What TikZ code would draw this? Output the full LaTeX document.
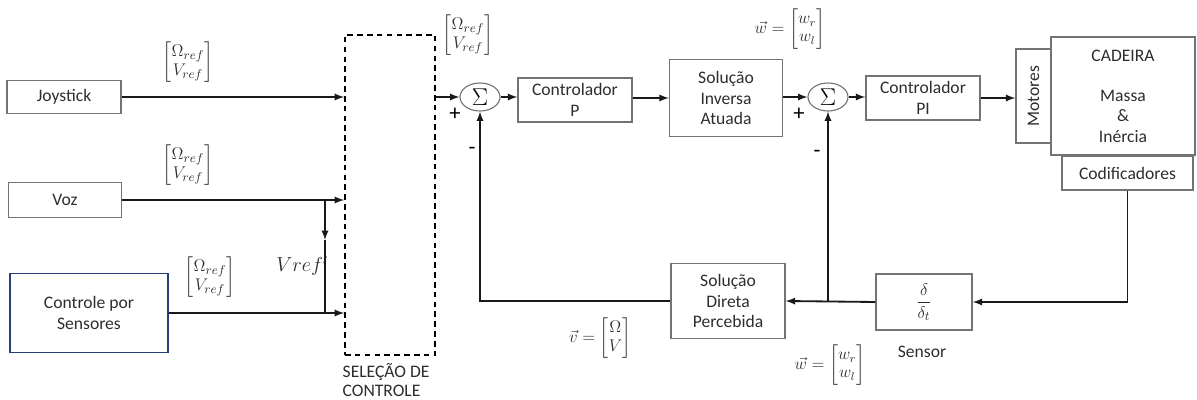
\documentclass[tikz,border=0pt]{standalone}
\usepackage{amsmath}
\usepackage{fontspec}
\setmainfont{Carlito}
\usetikzlibrary{shapes.geometric}
\definecolor{SensBlue}{RGB}{38,62,118}
\definecolor{TextGray}{RGB}{45,45,45}

\begin{document}
\begin{tikzpicture}[
  x=0.025cm, y=-0.025cm,
  blk/.style  = {rectangle, draw=black!55, line width=1pt, text=TextGray,
                 align=center, inner sep=2pt,
                 font=\fontsize{12.5}{14.5}\selectfont},
  sumnd/.style = {ellipse, draw=black!55, line width=0.8pt,
                  minimum width=1cm, minimum height=0.7cm, inner sep=0pt,
                  font=\fontsize{16}{16}\selectfont},
  sel/.style  = {rectangle, draw=black, dashed, line width=1.3pt,
                 dash pattern=on 4pt off 3pt},
  ln/.style   = {draw=black!90, line width=1.3pt},
  lbl/.style  = {font=\fontsize{12.5}{14}\selectfont, text=TextGray},
  sgn/.style  = {font=\fontsize{16}{16}\selectfont, text=black},
  >=latex,
]

\useasboundingbox (0,0) rectangle (1197,400);

% entradas
\node[blk, minimum width=2.85cm, minimum height=0.825cm] (joy) at (64,97) {Joystick};
\node[blk, minimum width=2.825cm, minimum height=0.875cm] (voz) at (65,200) {Voz};
\node[blk, draw=SensBlue, minimum width=3.95cm, minimum height=1.975cm]
  (sens) at (89,313) {Controle por\\Sensores};

\node[sel, minimum width=2.25cm, minimum height=8cm] (selc) at (390,195) {};
\node[lbl, anchor=north west, align=left, inner sep=1pt,
  font=\fontsize{12.5}{13.5}\selectfont]
  (selt) at (341,362) {SELEÇÃO DE\\CONTROLE};

\node[lbl] (m1) at (188,62)  {$\begin{bmatrix}\Omega_{ref}\\ V_{ref}\end{bmatrix}$};
\node[lbl] (m2) at (188,165) {$\begin{bmatrix}\Omega_{ref}\\ V_{ref}\end{bmatrix}$};
\node[lbl] (m3) at (210,277) {$\begin{bmatrix}\Omega_{ref}\\ V_{ref}\end{bmatrix}$};
\node[lbl] (m4) at (468,35)  {$\begin{bmatrix}\Omega_{ref}\\ V_{ref}\end{bmatrix}$};
\node[lbl, font=\fontsize{14}{14}\selectfont] (vref) at (302,266) {$Vref'$};

\coordinate (j1) at (325,200);
\coordinate (jm) at (325,240);
\coordinate (j2) at (325,313);

\draw[ln, ->] (joy.east) -- (joy.east -| selc.west);
\draw[ln, ->] (voz.east) -- (voz.east -| selc.west);
\draw[ln, ->] (sens.east) -- (sens.east -| selc.west);
\draw[ln, ->] (j1) -- (jm);
\draw[ln] (jm) -- (j2);

% malha externa
\node[sumnd] (sum1) at (480,97) {$\Sigma$};
\node[blk, minimum width=2.85cm, minimum height=1.1cm] (ctrlP) at (575,100)
  {Controlador\\P};
\node[blk, minimum width=2.825cm, minimum height=1.925cm] (inv) at (726,98)
  {Solução\\Inversa\\Atuada};

\node[sgn] at (455,114) {+};
\node[sgn] at (472,151) {-};

\draw[ln, ->] (sum1.west -| selc.east) -- (sum1.west);
\draw[ln, ->] (sum1.east) -- (sum1.east -| ctrlP.west);
\draw[ln, ->] (ctrlP.east |- inv.west) -- (inv.west);

% malha interna
\node[sumnd] (sum2) at (828,97) {$\Sigma$};
\node[blk, minimum width=2.85cm, minimum height=1.1cm] (ctrlPI) at (923,98)
  {Controlador\\PI};
\node[blk, minimum width=0.875cm, minimum height=2.35cm] (mot) at (1033.5,96) {};
\node[lbl, rotate=90] (mott) at (mot) {Motores};
\node[blk, minimum width=3.6cm, minimum height=2.95cm] (cad) at (1123,96)
  {CADEIRA\\[14pt]Massa\\\&\\Inércia};
\node[blk, minimum width=3.275cm, minimum height=0.85cm] (cod) at (1127.5,173)
  {Codificadores};

\node[lbl, inner sep=0.5pt, font=\fontsize{12}{13}\selectfont] (w1) at (790,29)
  {$\vec{w}=\begin{bmatrix}w_r\\ w_l\end{bmatrix}$};
\node[sgn] at (799,114) {+};
\node[sgn] at (817,154) {-};

\draw[ln, ->] (inv.east |- sum2.west) -- (sum2.west);
\draw[ln, ->] (sum2.east) -- (sum2.east -| ctrlPI.west);
\draw[ln, ->] (ctrlPI.east) -- (ctrlPI.east -| mot.west);

% realimentacao
\node[blk, minimum width=2.4cm, minimum height=1.4cm] (der) at (924,302)
  {$\dfrac{\delta}{\delta_t}$};
\node[lbl] (sent) at (922,352) {Sensor};
\node[blk, minimum width=2.85cm, minimum height=1.875cm] (dir) at (728,301)
  {Solução\\Direta\\Percebida};
\node[lbl] (vv) at (600,338) {$\vec{v}=\begin{bmatrix}\Omega\\ V\end{bmatrix}$};
\node[lbl, font=\fontsize{12}{13}\selectfont] (w2) at (830,365)
  {$\vec{w}=\begin{bmatrix}w_r\\ w_l\end{bmatrix}$};

\coordinate (j3) at (sum2 |- der.west);

\draw[ln, ->] (cod.south) |- (der.east);
\draw[ln, ->] (der.west) -- (dir.east);
\draw[ln, ->] (j3) -- (sum2.south);
\draw[ln, ->] (dir.west) -| (sum1.south);

\end{tikzpicture}
\end{document}
